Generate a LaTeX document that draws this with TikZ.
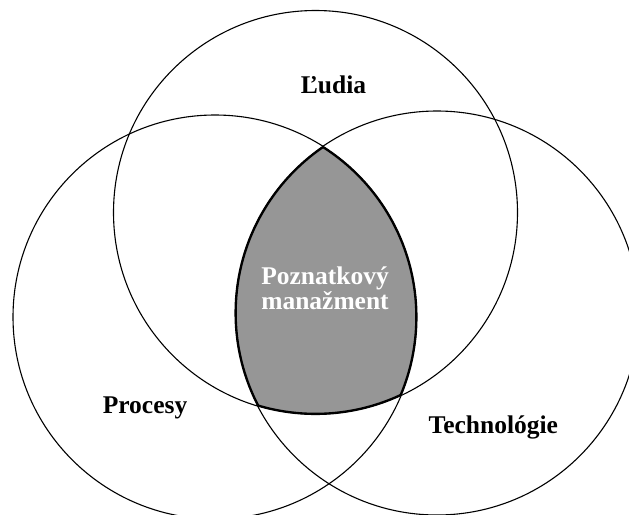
\documentclass[tikz,border=0pt]{standalone}
\usepackage{fontspec}
\setmainfont{Liberation Serif}
\definecolor{pmgray}{RGB}{150,150,150}
\tikzset{
  ring/.style={draw=black, line width=1.1pt},
  lbl/.style={font=\bfseries\fontsize{25.5}{25.5}\selectfont, anchor=base, inner sep=0pt},
}
\begin{document}
\begin{tikzpicture}[x=1pt,y=-1pt]
\useasboundingbox (0,0) rectangle (629,514);
\coordinate (cL) at (315.5,212.5);
\coordinate (cP) at (215,317);
\coordinate (cT) at (437,313);
\def\R{202pt}
% shaded intersection
\begin{scope}
  \clip (cL) circle[radius=\R];
  \clip (cP) circle[radius=\R];
  \clip (cT) circle[radius=\R];
  \fill[pmgray] (0,0) rectangle (629,514);
  \draw[line width=3.6pt] (cL) circle[radius=\R];
  \draw[line width=3.6pt] (cP) circle[radius=\R];
  \draw[line width=3.6pt] (cT) circle[radius=\R];
\end{scope}
\draw[ring] (cL) circle[radius=\R];
\draw[ring] (cP) circle[radius=\R];
\draw[ring] (cT) circle[radius=\R];
\node[lbl] (ludia) at (333.5,93.3) {Ľudia};
\node[lbl] (procesy) at (145,413.3) {Procesy};
\node[lbl] (tech) at (493.3,433.3) {Technológie};
\node[lbl, text=white] (pm1) at (325,284.3) {Poznatkový};
\node[lbl, text=white] (pm2) at (325,309.3) {manažment};
\end{tikzpicture}
\end{document}
